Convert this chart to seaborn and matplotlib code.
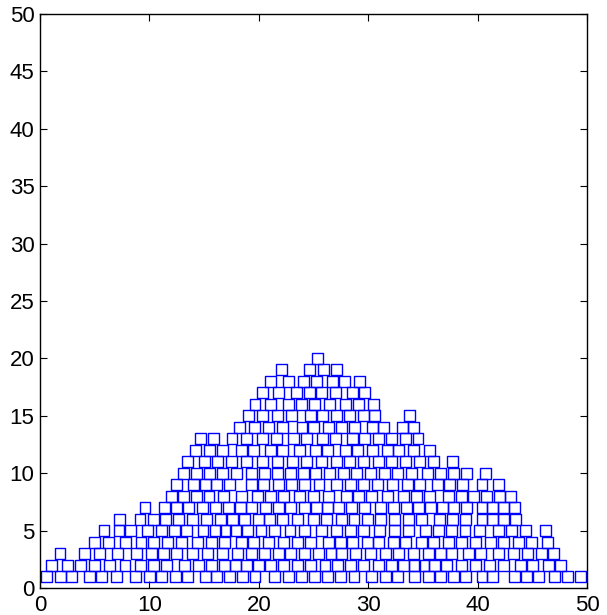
import numpy as np
import pandas as pd
import matplotlib
matplotlib.use("Agg")
import matplotlib.pyplot as plt
import seaborn as sns

# x positions of the squares, one list per stacking level (y = 1 .. 20)
row1 = [0.6, 1.9, 2.9, 4.5, 5.6, 7.0, 8.75, 10.0, 11.1, 12.4, 13.5, 15.1, 16.1, 17.35, 18.5,
        19.65, 21.4, 22.7, 23.9, 25.05, 26.25, 27.5, 28.7, 30.3, 31.55, 32.7, 34.2, 35.5, 36.65,
        37.8, 38.9, 40.4, 41.4, 43.4, 44.5, 45.6, 47.0, 48.2, 49.4]
row2 = [1.07, 2.5, 3.66, 4.97, 6.34, 7.77, 9.2, 10.36, 11.6, 13.25, 14.5, 15.7, 16.9, 17.9,
        18.9, 20.0, 21.1, 22.3, 23.55, 24.75, 26.05, 27.2, 28.35, 29.55, 30.9, 32.1, 33.2, 34.2,
        35.1, 36.1, 37.2, 38.5, 39.8, 41.1, 42.4, 43.9, 45.0, 46.5, 47.6]
row3 = [1.83, 4.11, 5.48, 7.1, 8.84, 10.2, 11.3, 12.5, 13.9, 15.3, 16.7, 18.07, 19.3, 20.5,
        21.8, 22.94, 24.2, 25.45, 26.6, 27.6, 28.8, 30.2, 31.6, 32.8, 34.1, 35.5, 36.6, 37.6,
        39.2, 40.3, 41.9, 43.3, 44.6, 45.85, 46.9]
row4 = [4.97, 6.25, 7.83, 9.23, 10.4, 11.67, 12.9, 14.4, 15.7, 16.9, 18.4, 19.5, 20.9, 22.3,
        23.5, 24.7, 26.35, 27.5, 28.6, 29.9, 30.9, 32.3, 33.4, 34.9, 36.0, 37.3, 38.5, 39.8,
        41.2, 42.4, 43.7, 44.9, 46.4]
row5 = [5.85, 7.22, 8.29, 9.84, 11.1, 12.3, 13.4, 14.9, 16.0, 16.95, 17.9, 19.0, 20.2, 21.4,
        22.85, 24.2, 25.75, 27.1, 28.4, 29.6, 31.0, 32.4, 33.7, 35.2, 36.4, 37.6, 38.85, 40.2,
        41.9, 43.1, 44.4, 46.2]
row6 = [7.3, 9.14, 10.36, 11.5, 12.7, 13.9, 15.2, 16.5, 17.6, 18.7, 20.0, 21.0, 22.2, 23.5,
        25.0, 26.2, 27.6, 28.7, 29.9, 31.1, 32.4, 33.7, 34.9, 36.5, 37.7, 38.9, 40.4, 41.4,
        42.4, 43.5]
row7 = [9.6, 11.4, 12.5, 13.55, 14.85, 16.0, 17.2, 18.3, 19.3, 20.6, 21.8, 22.9, 24.15, 25.3,
        26.3, 27.3, 28.5, 29.7, 31.1, 32.3, 33.5, 34.6, 35.7, 36.8, 37.8, 39.0, 40.4, 41.4,
        42.4, 43.4]
row8 = [12.0, 13.15, 14.3, 15.45, 16.8, 18.45, 19.9, 21.1, 22.3, 23.7, 25.0, 26.35, 28.0,
        29.1, 30.3, 31.8, 33.2, 34.4, 35.6, 37.3, 38.5, 39.6, 40.8, 42.0, 43.0]
row9 = [12.5, 14.05, 15.15, 16.15, 17.3, 19.3, 20.4, 21.8, 23.0, 24.2, 25.5, 27.1, 28.4, 29.6,
        30.85, 32.2, 33.6, 34.7, 36.3, 37.4, 38.6, 40.4, 41.9]
row10 = [13.15, 14.3, 15.5, 16.7, 18.0, 19.3, 20.5, 21.7, 22.9, 24.1, 25.2, 26.5, 27.7, 28.9,
         30.2, 31.5, 32.7, 34.0, 35.4, 36.6, 37.8, 39.0, 40.7]
row11 = [13.5, 15.0, 16.2, 17.5, 18.85, 20.3, 21.7, 23.1, 24.4, 25.75, 27.06, 28.3, 29.6, 30.9,
         32.1, 33.4, 34.7, 36.0, 37.7]
row12 = [14.25, 15.5, 16.7, 18.4, 19.5, 21.1, 22.2, 23.7, 25.2, 26.3, 27.9, 29.0, 30.4, 31.8,
         32.8, 34.1, 35.6]
row13 = [14.7, 15.9, 17.55, 18.9, 20.3, 21.6, 23.15, 24.35, 25.8, 27.05, 28.55, 29.65, 30.95,
         32.15, 33.4, 34.55]
row14 = [18.2, 19.6, 20.9, 22.15, 23.95, 25.0, 26.4, 27.6, 28.75, 30.4, 31.4, 33.1, 34.15]
row15 = [19.05, 20.3, 21.75, 23.0, 24.7, 25.85, 27.08, 28.3, 29.58, 30.6, 33.75]
row16 = [19.65, 21.1, 22.7, 23.9, 25.1, 26.5, 27.9, 29.1, 30.5]
row17 = [20.3, 21.8, 23.45, 24.6, 25.75, 26.97, 28.55, 29.7]
row18 = [21.1, 22.75, 24.1, 25.25, 26.7, 27.85, 29.2]
row19 = [22.1, 24.6, 25.9, 27.1]
row20 = [25.35]

rows = [row1, row2, row3, row4, row5, row6, row7, row8, row9, row10,
        row11, row12, row13, row14, row15, row16, row17, row18, row19, row20]

xs, ys = [], []
for level, r in enumerate(rows, start=1):
    xs += r
    ys += [level] * len(r)
df = pd.DataFrame({"x": xs, "y": ys})

sns.set_style("white")
plt.rcParams["font.family"] = ["Liberation Sans", "DejaVu Sans"]

fig = plt.figure(figsize=(6.07, 6.15), dpi=100)
ax = fig.add_axes([40 / 607, 27 / 615, 547 / 607, 574 / 615])

sns.scatterplot(data=df, x="x", y="y", marker="s", s=62,
                facecolor="none", edgecolor="blue", linewidth=1.0, ax=ax)

ax.set_xlim(0, 50)
ax.set_ylim(0, 50)
ax.set_xticks(np.arange(0, 51, 10))
ax.set_yticks(np.arange(0, 51, 5))
ax.set_xlabel("")
ax.set_ylabel("")
for sp in ax.spines.values():
    sp.set_visible(True)
    sp.set_color("black")
    sp.set_linewidth(1.0)
ax.tick_params(direction="in", length=5, width=0.8, labelsize=16,
               top=True, right=True, bottom=True, left=True, colors="black")
ax.tick_params(axis="x", pad=5)
ax.tick_params(axis="y", pad=4)

fig.savefig("out.png", dpi=100)
